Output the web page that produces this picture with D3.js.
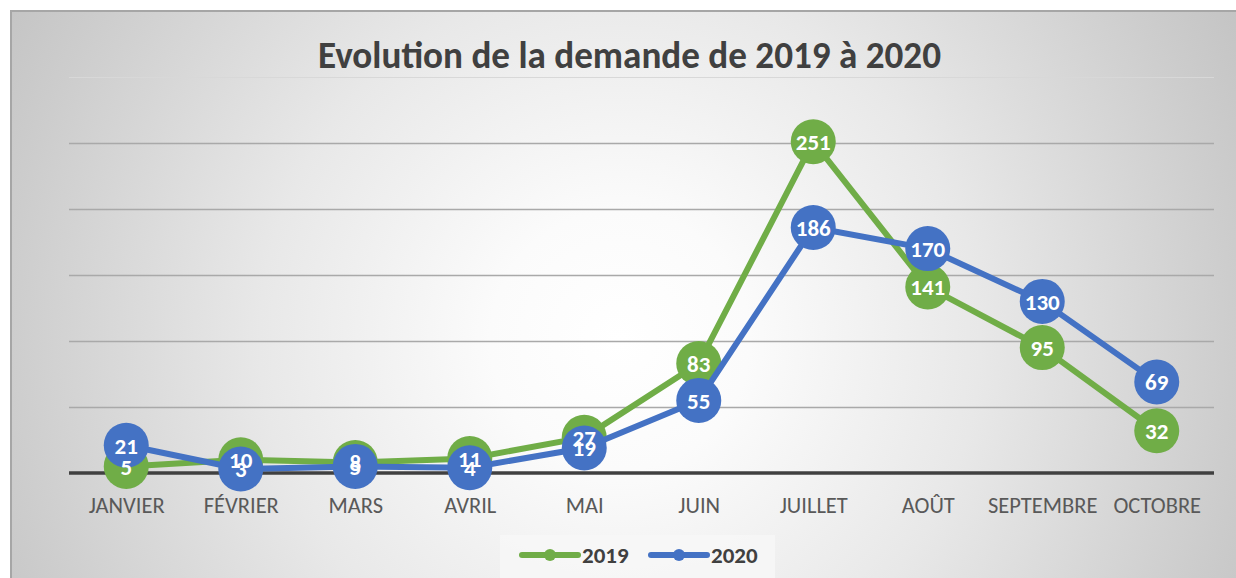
<!DOCTYPE html>
<html><head><meta charset="utf-8">
<script src="https://cdn.jsdelivr.net/npm/d3@7"></script>
<style>html,body{margin:0;padding:0;background:#fff;}svg{display:block;}</style>
</head><body>
<svg id="chart" width="1236" height="578"></svg>
<script>
const months = ["JANVIER","FÉVRIER","MARS","AVRIL","MAI","JUIN","JUILLET","AOÛT","SEPTEMBRE","OCTOBRE"];
const values2019 = [5,10,8,11,27,83,251,141,95,32];
const values2020 = [21,3,5,4,19,55,186,170,130,69];
const yTicks = [0,50,100,150,200,250,300];
const seriesNames = ["2019","2020"];
const seriesColors = ["#70ad47","#4472c4"];
const titleText = "Evolution de la demande de 2019 à 2020";

const FONT = "Carlito, Lato, 'Open Sans', sans-serif";
const svg = d3.select("#chart");

const defs = svg.append("defs");
const grad = defs.append("radialGradient").attr("id","bg")
  .attr("gradientUnits","userSpaceOnUse").attr("cx",620).attr("cy",340).attr("r",720);
[[0,"#ffffff"],[0.18,"#fbfbfb"],[0.5,"#e8e8e8"],[0.85,"#cdcdcd"],[1,"#c2c2c2"]]
  .forEach(([o,c])=>grad.append("stop").attr("offset",o).attr("stop-color",c));

svg.append("rect").attr("x",11).attr("y",11).attr("width",1260).attr("height",620)
  .attr("fill","url(#bg)").attr("stroke","#a6a6a6").attr("stroke-width",2);

const x = d3.scalePoint().domain(months).range([69,1214]).padding(0.5);
const y = d3.scaleLinear().domain([0,300]).range([473,77]);

// gridlines
const grid = svg.append("g").attr("class","grid")
  .call(d3.axisLeft(y).tickValues(yTicks.filter(v=>v>0)).tickSize(-(1214-69)).tickFormat(""))
  .attr("transform","translate(69,0)");
grid.select(".domain").remove();
grid.selectAll(".tick line").attr("stroke",d=> d===300 ? "#d8d8d8" : "#a9a9a9")
  .attr("stroke-width",d=> d===300 ? 1 : 1.3);

// x axis
const xAxis = svg.append("g").attr("transform","translate(0,473)")
  .call(d3.axisBottom(x).tickSize(0));
xAxis.select(".domain").attr("d","M69,0H1214").attr("stroke","#404040").attr("stroke-width",3.5);
xAxis.selectAll(".tick text").attr("font-family",FONT).attr("font-size",22.5)
  .attr("fill","#595959").attr("dy","0").attr("y",40);

const series = [values2019, values2020];
const line = d3.line().x((d,i)=>x(months[i])).y(d=>y(d));

series.forEach((vals,si)=>{
  const g = svg.append("g");
  g.append("path").datum(vals).attr("d",line).attr("fill","none")
    .attr("stroke",seriesColors[si]).attr("stroke-width",6).attr("stroke-linejoin","round");
  g.selectAll("circle").data(vals).join("circle")
    .attr("cx",(d,i)=>x(months[i])).attr("cy",d=>y(d)).attr("r",22.5)
    .attr("fill",seriesColors[si]);
});
series.forEach((vals,si)=>{
  svg.append("g").selectAll("text").data(vals).join("text")
    .attr("x",(d,i)=>x(months[i])).attr("y",d=>y(d)).attr("dy","0.36em")
    .attr("text-anchor","middle").attr("font-family",FONT).attr("font-weight","bold")
    .attr("font-size",23).attr("fill","#ffffff").text(d=>d);
});

// title
svg.append("text").attr("x",629.5).attr("y",68).attr("text-anchor","middle")
  .attr("font-family",FONT).attr("font-weight","bold").attr("font-size",38)
  .attr("fill","#404040").attr("textLength",623).attr("lengthAdjust","spacingAndGlyphs")
  .text(titleText);

// legend
svg.append("rect").attr("x",500).attr("y",535).attr("width",275).attr("height",43)
  .attr("fill","#f7f7f7").attr("opacity",0.85);
const legX = [522, 651];
seriesNames.forEach((n,i)=>{
  const g = svg.append("g");
  g.append("line").attr("x1",legX[i]).attr("x2",legX[i]+56).attr("y1",555).attr("y2",555)
    .attr("stroke",seriesColors[i]).attr("stroke-width",6).attr("stroke-linecap","round");
  g.append("circle").attr("cx",legX[i]+28).attr("cy",555).attr("r",6).attr("fill",seriesColors[i]);
  g.append("text").attr("x",legX[i]+60).attr("y",555).attr("dy","0.36em")
    .attr("font-family",FONT).attr("font-weight","bold").attr("font-size",23)
    .attr("fill","#404040").text(n);
});
</script>
</body></html>
